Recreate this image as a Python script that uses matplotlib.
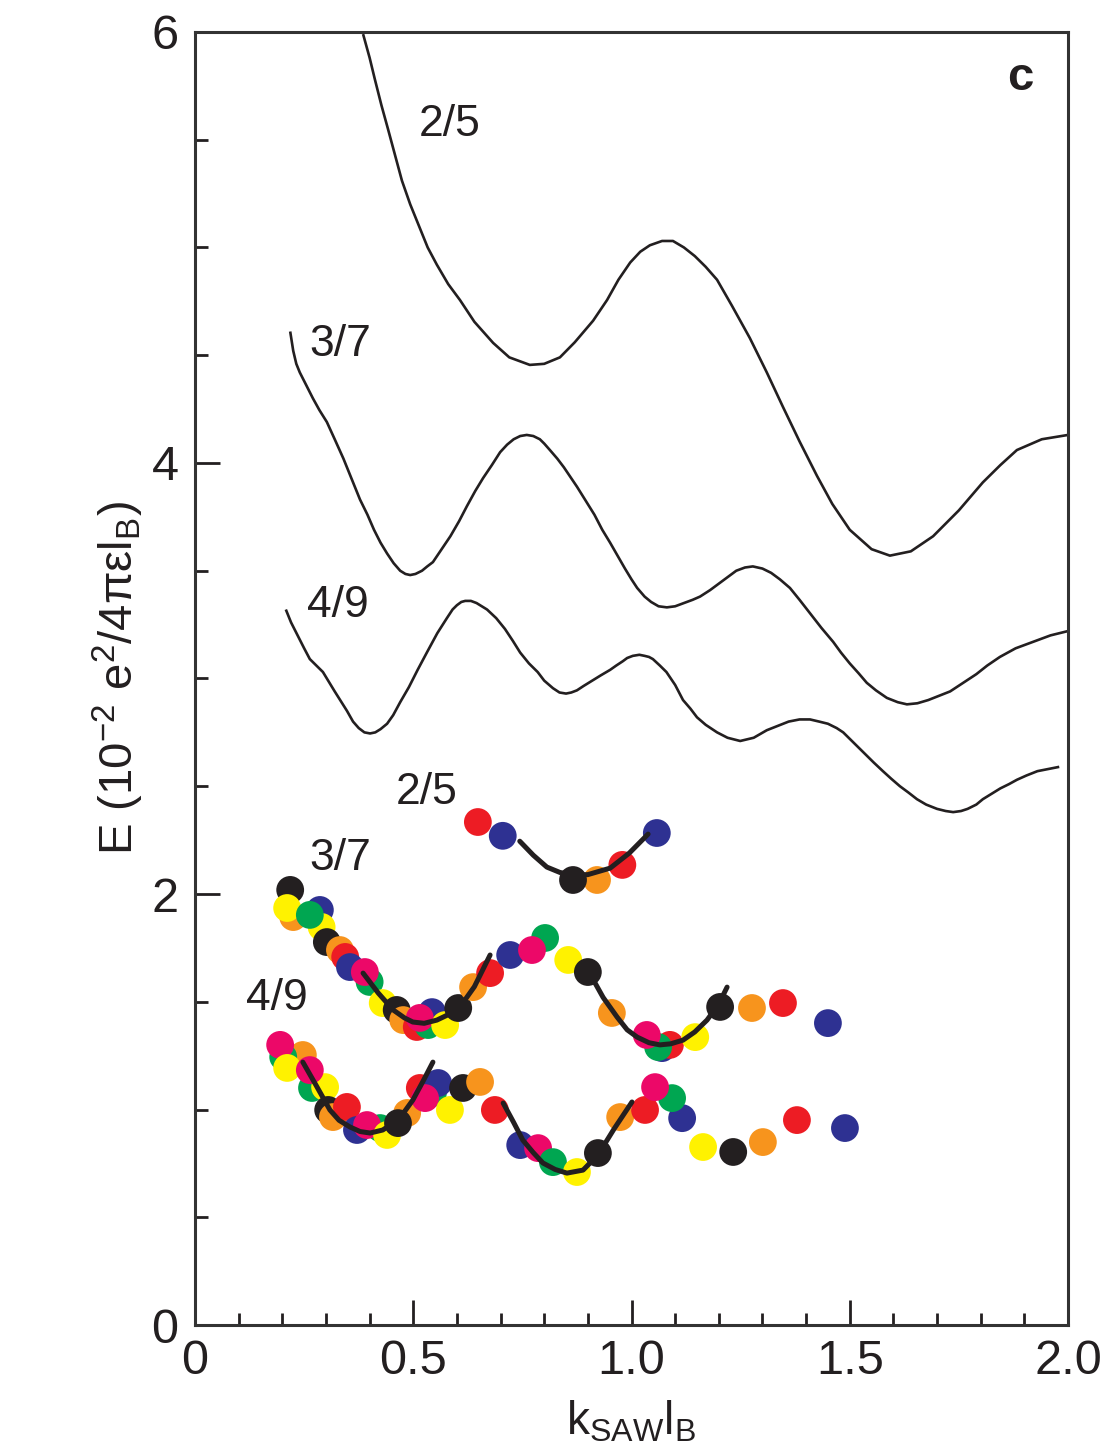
import matplotlib
matplotlib.use("Agg")
import matplotlib.pyplot as plt
from matplotlib.ticker import MultipleLocator, FixedFormatter, FixedLocator

plt.rcParams["font.family"] = ["Liberation Sans", "DejaVu Sans"]
plt.rcParams["mathtext.fontset"] = "custom"
plt.rcParams["mathtext.rm"] = "Liberation Sans"
plt.rcParams["mathtext.it"] = "Liberation Sans:italic"
plt.rcParams["mathtext.bf"] = "Liberation Sans:bold"

# ---- theory curves (upper) ----
k_th_25 = [0.385, 0.40, 0.412, 0.427, 0.442, 0.458, 0.474, 0.493, 0.513, 0.533,
           0.554, 0.58, 0.607, 0.64, 0.683, 0.72, 0.767, 0.80, 0.836, 0.87,
           0.912, 0.944, 0.97, 0.997, 1.02, 1.042, 1.07, 1.095, 1.12, 1.145,
           1.17, 1.196, 1.23, 1.271, 1.31, 1.347, 1.385, 1.425, 1.46, 1.50,
           1.55, 1.592, 1.64, 1.691, 1.75, 1.805, 1.845, 1.883, 1.94, 2.0]
E_th_25 = [5.99, 5.88, 5.78, 5.66, 5.55, 5.43, 5.31, 5.20, 5.10, 5.00,
           4.92, 4.83, 4.756, 4.655, 4.557, 4.49, 4.455, 4.46, 4.49, 4.56,
           4.66, 4.756, 4.85, 4.93, 4.98, 5.01, 5.03, 5.03, 5.00, 4.96,
           4.91, 4.85, 4.73, 4.58, 4.42, 4.26, 4.10, 3.94, 3.81, 3.69,
           3.60, 3.57, 3.59, 3.66, 3.78, 3.91, 3.99, 4.06, 4.11, 4.13]

k_th_37 = [0.218, 0.225, 0.232, 0.24, 0.255, 0.27, 0.285, 0.302, 0.32, 0.34,
           0.36, 0.378, 0.395, 0.41, 0.425, 0.44, 0.455, 0.47, 0.482, 0.493,
           0.505, 0.52, 0.532, 0.545, 0.565, 0.585, 0.605, 0.623, 0.642, 0.66,
           0.68, 0.699, 0.715, 0.73, 0.745, 0.76, 0.775, 0.79, 0.80, 0.813,
           0.83, 0.845, 0.86, 0.875, 0.895, 0.915, 0.933, 0.951, 0.968, 0.985,
           1.0, 1.013, 1.03, 1.045, 1.062, 1.081, 1.10, 1.12, 1.14, 1.157,
           1.18, 1.20, 1.22, 1.24, 1.26, 1.278, 1.30, 1.32, 1.34, 1.363,
           1.385, 1.41, 1.435, 1.462, 1.48, 1.50, 1.52, 1.539, 1.56, 1.585,
           1.61, 1.631, 1.655, 1.68, 1.705, 1.73, 1.76, 1.79, 1.815, 1.844,
           1.88, 1.92, 1.96, 2.0]
E_th_37 = [4.61, 4.52, 4.46, 4.42, 4.36, 4.30, 4.245, 4.19, 4.11, 4.02,
           3.92, 3.83, 3.76, 3.69, 3.63, 3.58, 3.535, 3.50, 3.485, 3.48,
           3.485, 3.50, 3.52, 3.54, 3.60, 3.66, 3.73, 3.80, 3.87, 3.93,
           3.99, 4.05, 4.085, 4.11, 4.125, 4.13, 4.125, 4.11, 4.09, 4.06,
           4.02, 3.98, 3.935, 3.89, 3.825, 3.76, 3.69, 3.63, 3.57, 3.51,
           3.46, 3.42, 3.38, 3.355, 3.335, 3.33, 3.335, 3.35, 3.365, 3.38,
           3.41, 3.44, 3.47, 3.50, 3.515, 3.52, 3.51, 3.49, 3.46, 3.42,
           3.365, 3.30, 3.235, 3.17, 3.12, 3.07, 3.025, 2.98, 2.945, 2.91,
           2.89, 2.88, 2.885, 2.90, 2.92, 2.94, 2.98, 3.02, 3.06, 3.10,
           3.14, 3.17, 3.20, 3.22]

k_th_49 = [0.208, 0.22, 0.235, 0.25, 0.263, 0.278, 0.293, 0.305, 0.32, 0.334,
           0.348, 0.362, 0.375, 0.388, 0.401, 0.413, 0.425, 0.44, 0.454, 0.47,
           0.49, 0.51, 0.531, 0.555, 0.577, 0.59, 0.60, 0.61, 0.619, 0.632,
           0.645, 0.657, 0.669, 0.69, 0.71, 0.728, 0.745, 0.765, 0.785, 0.80,
           0.82, 0.835, 0.85, 0.862, 0.875, 0.89, 0.91, 0.93, 0.951, 0.965,
           0.98, 0.99, 1.003, 1.018, 1.03, 1.04, 1.049, 1.065, 1.08, 1.10,
           1.118, 1.135, 1.15, 1.17, 1.196, 1.22, 1.249, 1.28, 1.31, 1.335,
           1.36, 1.385, 1.409, 1.43, 1.45, 1.47, 1.485, 1.505, 1.53, 1.555,
           1.576, 1.595, 1.615, 1.635, 1.654, 1.675, 1.70, 1.72, 1.737, 1.755,
           1.77, 1.79, 1.805, 1.825, 1.845, 1.865, 1.883, 1.905, 1.93, 1.955,
           1.98]
E_th_49 = [3.32, 3.26, 3.20, 3.14, 3.09, 3.06, 3.03, 2.99, 2.94, 2.895,
           2.85, 2.80, 2.77, 2.75, 2.745, 2.75, 2.765, 2.79, 2.83, 2.89,
           2.96, 3.04, 3.12, 3.21, 3.28, 3.32, 3.34, 3.355, 3.36, 3.36,
           3.35, 3.335, 3.32, 3.28, 3.23, 3.175, 3.12, 3.07, 3.03, 2.99,
           2.955, 2.935, 2.93, 2.935, 2.945, 2.965, 2.99, 3.015, 3.04, 3.06,
           3.08, 3.095, 3.105, 3.11, 3.105, 3.10, 3.09, 3.06, 3.03, 2.97,
           2.90, 2.86, 2.82, 2.785, 2.75, 2.725, 2.71, 2.725, 2.76, 2.78,
           2.80, 2.81, 2.81, 2.80, 2.79, 2.77, 2.75, 2.71, 2.66, 2.61,
           2.57, 2.535, 2.50, 2.47, 2.44, 2.415, 2.395, 2.385, 2.38, 2.385,
           2.395, 2.415, 2.44, 2.465, 2.49, 2.51, 2.53, 2.55, 2.57, 2.58,
           2.59]

# ---- measured points (set name per point) ----
k_25 = [0.921, 0.866, 0.979, 0.648, 0.705, 1.058]
E_25 = [2.065, 2.065, 2.135, 2.334, 2.27, 2.283]
s_25 = ["orange", "black", "red", "red", "blue", "blue"]

k_37 = [0.218, 0.225, 0.211, 0.286, 0.29, 0.263, 0.302, 0.332, 0.344, 0.355,
        0.40, 0.389, 0.43, 0.462, 0.477, 0.508, 0.534, 0.543, 0.515, 0.573,
        0.603, 0.637, 0.676, 0.722, 0.802, 0.772, 0.855, 0.90, 0.955, 1.07,
        1.088, 1.061, 1.035, 1.146, 1.203, 1.276, 1.347, 1.45]
E_37 = [2.019, 1.893, 1.935, 1.926, 1.847, 1.903, 1.777, 1.74, 1.708, 1.661,
        1.592, 1.638, 1.494, 1.462, 1.415, 1.383, 1.392, 1.452, 1.425, 1.392,
        1.471, 1.568, 1.633, 1.717, 1.796, 1.740, 1.694, 1.638, 1.448, 1.285,
        1.30, 1.29, 1.346, 1.336, 1.476, 1.471, 1.494, 1.401]
s_37 = ["black", "orange", "yellow", "blue", "yellow", "green", "black", "orange", "red", "blue",
        "green", "magenta", "yellow", "black", "orange", "red", "green", "blue", "magenta", "yellow",
        "black", "orange", "red", "blue", "green", "magenta", "yellow", "black", "orange", "blue",
        "red", "green", "magenta", "yellow", "black", "orange", "red", "blue"]

k_49 = [0.247, 0.202, 0.195, 0.211, 0.268, 0.298, 0.263, 0.305, 0.316, 0.348,
        0.371, 0.424, 0.394, 0.44, 0.486, 0.465, 0.515, 0.545, 0.557, 0.527,
        0.584, 0.614, 0.653, 0.687, 0.745, 0.786, 0.82, 0.875, 0.923, 0.974,
        1.031, 1.116, 1.093, 1.054, 1.164, 1.233, 1.301, 1.379, 1.489]
E_49 = [1.253, 1.244, 1.30, 1.193, 1.10, 1.104, 1.183, 0.998, 0.965, 1.012,
        0.905, 0.914, 0.928, 0.882, 0.984, 0.937, 1.10, 1.077, 1.123, 1.053,
        0.998, 1.10, 1.128, 0.998, 0.835, 0.821, 0.756, 0.71, 0.798, 0.965,
        0.998, 0.96, 1.053, 1.104, 0.826, 0.803, 0.849, 0.951, 0.914]
s_49 = ["orange", "green", "magenta", "yellow", "green", "yellow", "magenta", "black", "orange", "red",
        "blue", "green", "magenta", "yellow", "orange", "black", "red", "green", "blue", "magenta",
        "yellow", "black", "orange", "red", "blue", "magenta", "green", "yellow", "black", "orange",
        "red", "blue", "green", "magenta", "yellow", "black", "orange", "red", "blue"]

# ---- fits through measured points ----
k_fit_25 = [0.744, 0.775, 0.806, 0.836, 0.866, 0.90, 0.951, 0.995, 1.038]
E_fit_25 = [2.245, 2.18, 2.125, 2.10, 2.088, 2.09, 2.12, 2.19, 2.278]
k_fit_37a = [0.385, 0.42, 0.454, 0.48, 0.499, 0.525, 0.554, 0.58, 0.607, 0.64, 0.676]
E_fit_37a = [1.633, 1.54, 1.462, 1.425, 1.406, 1.40, 1.415, 1.44, 1.476, 1.57, 1.717]
k_fit_37b = [0.90, 0.935, 0.967, 0.99, 1.013, 1.04, 1.065, 1.09, 1.118, 1.145, 1.173, 1.20, 1.219]
E_fit_37b = [1.647, 1.52, 1.429, 1.37, 1.336, 1.31, 1.30, 1.305, 1.322, 1.36, 1.415, 1.49, 1.568]
k_fit_49a = [0.247, 0.278, 0.309, 0.33, 0.355, 0.378, 0.401, 0.43, 0.454, 0.478, 0.499, 0.522, 0.545]
E_fit_49a = [1.22, 1.11, 0.998, 0.95, 0.919, 0.898, 0.891, 0.905, 0.937, 0.985, 1.044, 1.13, 1.22]
k_fit_49b = [0.706, 0.73, 0.751, 0.775, 0.797, 0.825, 0.852, 0.889, 0.923, 0.96, 1.001]
E_fit_49b = [1.03, 0.94, 0.858, 0.80, 0.752, 0.722, 0.705, 0.719, 0.789, 0.91, 1.035]

palette = {"red": "#ed1c24", "blue": "#2e3192", "black": "#231f20", "orange": "#f7941d",
           "yellow": "#fff200", "green": "#00a651", "magenta": "#ec0868"}
ink = "#231f20"

fig = plt.figure(figsize=(11.19, 14.51), dpi=100)
ax = fig.add_axes([0.1743, 0.0868, 0.7801, 0.8912])

for k, E in [(k_th_25, E_th_25), (k_th_37, E_th_37), (k_th_49, E_th_49)]:
    ax.plot(k, E, color=ink, lw=1.9, solid_joinstyle="round", solid_capstyle="butt", zorder=2)

for k, E, s in [(k_25, E_25, s_25), (k_37, E_37, s_37), (k_49, E_49, s_49)]:
    ax.scatter(k, E, s=400, c=[palette[n] for n in s], linewidths=0, zorder=3)

for k, E in [(k_fit_25, E_fit_25), (k_fit_37a, E_fit_37a), (k_fit_37b, E_fit_37b),
             (k_fit_49a, E_fit_49a), (k_fit_49b, E_fit_49b)]:
    ax.plot(k, E, color=ink, lw=3.6, solid_joinstyle="round", solid_capstyle="round", zorder=4)

lab = dict(fontsize=32, color=ink, ha="center", va="center")
ax.text(0.584, 5.57, "2/5", **lab)
ax.text(0.332, 4.55, "3/7", **lab)
ax.text(0.328, 3.34, "4/9", **lab)
ax.text(0.531, 2.47, "2/5", **lab)
ax.text(0.332, 2.167, "3/7", **lab)
ax.text(0.188, 1.517, "4/9", **lab)
ax.text(0.945, 0.964, "c", transform=ax.transAxes, fontsize=34, fontweight="bold",
        color=ink, ha="center", va="center")

ax.set_xlim(0, 2.0)
ax.set_ylim(0, 6)
ax.xaxis.set_major_locator(FixedLocator([0, 0.5, 1.0, 1.5, 2.0]))
ax.xaxis.set_major_formatter(FixedFormatter(["0", "0.5", "1.0", "1.5", "2.0"]))
ax.xaxis.set_minor_locator(MultipleLocator(0.1))
ax.yaxis.set_major_locator(MultipleLocator(2))
ax.yaxis.set_minor_locator(MultipleLocator(0.5))
ax.tick_params(which="both", direction="in", top=False, right=False, width=2,
               color=ink, labelsize=35, labelcolor=ink)
ax.tick_params(which="major", length=18)
ax.tick_params(which="minor", length=9)
ax.tick_params(axis="x", pad=10)
ax.tick_params(axis="y", pad=12)
for sp in ax.spines.values():
    sp.set_linewidth(2.2)
    sp.set_color("#333333")

ax.text(-0.088, 0.5, "E (10$^{-2}$ e$^{2}$/4πεl$_{\\mathrm{B}}$)", transform=ax.transAxes,
        rotation=90, fontsize=34, color=ink, ha="center", va="center")
ax.text(0.5, -0.075, "k$_{\\mathrm{SAW}}$l$_{\\mathrm{B}}$", transform=ax.transAxes,
        fontsize=33, color=ink, ha="center", va="center")

fig.savefig("out.png", dpi=100)
